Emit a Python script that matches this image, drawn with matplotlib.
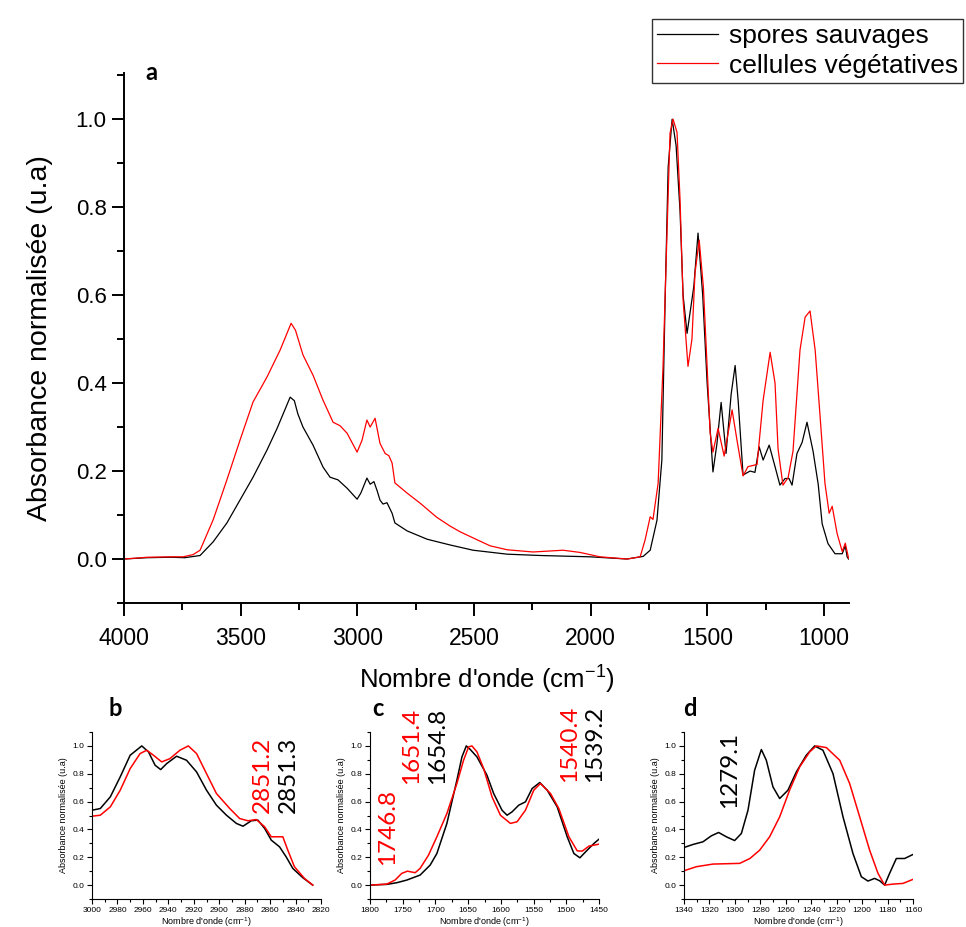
import matplotlib
matplotlib.use("Agg")
import matplotlib.pyplot as plt
from matplotlib.ticker import MultipleLocator

# ---- main spectrum (a) ----
wn_spores = [4000, 3900, 3800, 3740, 3700, 3674, 3618, 3559, 3503, 3447, 3387, 3344, 3310, 3288,
             3270, 3255, 3233, 3190, 3147, 3117, 3083, 3044, 3001, 2985, 2959, 2945, 2929, 2915,
             2903, 2890, 2873, 2851, 2839, 2787, 2701, 2603, 2504, 2358, 2217, 2003, 1844, 1775,
             1745, 1716, 1695, 1681, 1668, 1651, 1634, 1617, 1604, 1587, 1566, 1558, 1540, 1520,
             1501, 1476, 1459, 1441, 1420, 1398, 1381, 1368, 1347, 1317, 1296, 1278, 1261, 1235,
             1210, 1189, 1167, 1150, 1137, 1116, 1094, 1073, 1047, 1025, 1008, 983, 953, 922, 909,
             901, 895]
abs_spores = [0.0, 0.003, 0.004, 0.003, 0.006, 0.008, 0.039, 0.082, 0.134, 0.186, 0.248, 0.297, 0.34,
              0.368, 0.36, 0.33, 0.30, 0.259, 0.209, 0.186, 0.18, 0.161, 0.136, 0.15, 0.184, 0.17,
              0.176, 0.155, 0.134, 0.125, 0.128, 0.104, 0.082, 0.064, 0.045, 0.032, 0.02, 0.011,
              0.008, 0.005, 0.0, 0.006, 0.02, 0.088, 0.225, 0.589, 0.891, 1.0, 0.94, 0.79, 0.60,
              0.513, 0.59, 0.62, 0.741, 0.60, 0.40, 0.198, 0.262, 0.356, 0.24, 0.375, 0.44, 0.36,
              0.191, 0.2, 0.197, 0.255, 0.225, 0.259, 0.21, 0.168, 0.183, 0.183, 0.168, 0.24, 0.265,
              0.311, 0.245, 0.17, 0.08, 0.035, 0.012, 0.012, 0.03, 0.005, 0.0]

wn_veg = [4000, 3900, 3800, 3747, 3704, 3674, 3618, 3559, 3503, 3447, 3387, 3331, 3300, 3284, 3265,
          3233, 3190, 3147, 3104, 3074, 3044, 3001, 2980, 2959, 2945, 2924, 2903, 2881, 2865, 2851,
          2839, 2787, 2731, 2660, 2603, 2560, 2504, 2431, 2358, 2247, 2118, 2046, 1960, 1844, 1788,
          1767, 1745, 1733, 1711, 1690, 1673, 1660, 1647, 1630, 1617, 1604, 1583, 1566, 1553, 1535,
          1517, 1501, 1488, 1476, 1454, 1428, 1394, 1373, 1347, 1326, 1287, 1261, 1231, 1210, 1197,
          1176, 1154, 1133, 1103, 1081, 1060, 1038, 1017, 996, 978, 965, 944, 922, 909, 895]
abs_veg = [0.0, 0.004, 0.005, 0.005, 0.01, 0.02, 0.089, 0.18, 0.27, 0.357, 0.414, 0.475, 0.515, 0.536,
           0.52, 0.464, 0.418, 0.361, 0.311, 0.303, 0.286, 0.243, 0.27, 0.316, 0.30, 0.32, 0.263,
           0.24, 0.235, 0.218, 0.173, 0.15, 0.127, 0.095, 0.075, 0.062, 0.048, 0.03, 0.021, 0.016,
           0.02, 0.015, 0.005, 0.0, 0.005, 0.043, 0.096, 0.09, 0.172, 0.437, 0.74, 0.968, 1.0, 0.97,
           0.816, 0.589, 0.438, 0.5, 0.65, 0.725, 0.618, 0.437, 0.286, 0.243, 0.297, 0.234, 0.339,
           0.27, 0.189, 0.21, 0.215, 0.361, 0.47, 0.40, 0.25, 0.168, 0.185, 0.245, 0.475, 0.55,
           0.564, 0.475, 0.325, 0.172, 0.104, 0.12, 0.058, 0.017, 0.036, 0.002]

# ---- zoom b : CH stretching ----
b_wn_sp = [3000, 2993.5, 2985.6, 2977.8, 2970, 2960.9, 2955.6, 2950.4, 2946, 2941.3, 2933.5, 2925.7,
           2917.8, 2910, 2902.2, 2894.3, 2886.5, 2881.3, 2874.8, 2869.6, 2864.3, 2859.1, 2852.6,
           2847.4, 2842.2, 2834.3, 2826.5]
b_abs_sp = [0.538, 0.55, 0.634, 0.778, 0.933, 1.0, 0.957, 0.861, 0.83, 0.873, 0.926, 0.897, 0.813,
            0.682, 0.574, 0.502, 0.443, 0.423, 0.462, 0.467, 0.407, 0.323, 0.275, 0.203, 0.12,
            0.053, 0.0]
b_wn_veg = [3000, 2993.5, 2985.6, 2977.8, 2970, 2962.2, 2957, 2951.7, 2945.2, 2938.7, 2930.9, 2924.3,
            2917.8, 2910, 2902.2, 2891.7, 2883.9, 2877.4, 2870.9, 2864.3, 2859.1, 2853.9, 2850,
            2846.1, 2840.9, 2833, 2826.5]
b_abs_veg = [0.495, 0.502, 0.562, 0.682, 0.837, 0.945, 0.969, 0.933, 0.885, 0.909, 0.969, 1.0, 0.945,
             0.801, 0.658, 0.55, 0.478, 0.462, 0.471, 0.419, 0.347, 0.347, 0.347, 0.251, 0.132,
             0.048, 0.0]

# ---- zoom c : amide region ----
c_wn_sp = [1800, 1774.4, 1759.1, 1743.8, 1723.4, 1708, 1697.8, 1682.5, 1667.2, 1659.5, 1652.8, 1646.7,
           1636.5, 1621.2, 1611, 1598.2, 1590.5, 1582.9, 1572.7, 1562.4, 1552.2, 1540.5, 1529.2,
           1513.9, 1498.6, 1488.4, 1479.2, 1468, 1457.8, 1450]
c_abs_sp = [0.0, 0.005, 0.017, 0.036, 0.072, 0.144, 0.227, 0.443, 0.754, 0.921, 1.0, 0.974, 0.921,
            0.789, 0.658, 0.538, 0.502, 0.526, 0.574, 0.598, 0.694, 0.737, 0.682, 0.562, 0.347,
            0.227, 0.196, 0.251, 0.299, 0.33]
c_wn_veg = [1800, 1774.4, 1761.7, 1751.5, 1742.8, 1731, 1723.4, 1710.6, 1697.8, 1682.5, 1667.2, 1657,
            1649.3, 1644.2, 1636.5, 1626.3, 1613.5, 1600.7, 1585.4, 1575.2, 1562.4, 1549.7, 1539.5,
            1524.1, 1511.4, 1496, 1483.3, 1475.6, 1465.4, 1450]
c_abs_veg = [0.0, 0.007, 0.036, 0.084, 0.1, 0.089, 0.12, 0.215, 0.347, 0.514, 0.73, 0.897, 0.993, 1.0,
             0.957, 0.837, 0.634, 0.502, 0.443, 0.455, 0.538, 0.682, 0.73, 0.658, 0.55, 0.347,
             0.246, 0.244, 0.28, 0.294]

# ---- zoom d : 1340-1160 ----
d_wn_sp = [1340, 1332.9, 1325.1, 1318.5, 1312.8, 1306.7, 1300.2, 1294.9, 1289.7, 1284.5, 1279.2,
           1275.3, 1270.1, 1264.8, 1258.3, 1251.7, 1243.9, 1237.3, 1230.8, 1222.9, 1215, 1207.2,
           1200.6, 1195.4, 1190.2, 1186.2, 1182.3, 1178.4, 1173.1, 1166.6, 1160]
d_abs_sp = [0.27, 0.292, 0.311, 0.354, 0.378, 0.347, 0.32, 0.371, 0.538, 0.825, 0.974, 0.897, 0.706,
            0.622, 0.682, 0.813, 0.933, 1.0, 0.969, 0.801, 0.49, 0.227, 0.06, 0.029, 0.048, 0.031,
            0.0, 0.084, 0.191, 0.191, 0.22]
d_wn_veg = [1340, 1330.3, 1317.2, 1296.2, 1288.2, 1280.5, 1272.7, 1264.8, 1257, 1249.1, 1241.2, 1236,
            1228.1, 1217.6, 1209.8, 1201.9, 1194.1, 1187.5, 1182.3, 1175.7, 1167.9, 1160]
d_abs_veg = [0.103, 0.132, 0.151, 0.156, 0.191, 0.251, 0.347, 0.49, 0.682, 0.849, 0.957, 1.0, 0.988,
             0.897, 0.73, 0.49, 0.251, 0.084, 0.0, 0.007, 0.012, 0.041]

labels = ["spores sauvages", "cellules végétatives"]
colors = ["black", "red"]

W, H = 966, 927
fig = plt.figure(figsize=(W / 100, H / 100), dpi=100)
plt.rcParams['font.family'] = ['Liberation Sans', 'DejaVu Sans']
plt.rcParams['mathtext.fontset'] = 'custom'
plt.rcParams['mathtext.rm'] = 'Liberation Sans'


def px(x, y):
    return x / W, 1 - y / H


def style_axes(ax, lw, major_len, minor_len, fs):
    for s in ["top", "right"]:
        ax.spines[s].set_visible(False)
    for s in ["left", "bottom"]:
        ax.spines[s].set_linewidth(lw)
    ax.tick_params(which="major", direction="out", length=major_len, width=lw, labelsize=fs)
    ax.tick_params(which="minor", direction="out", length=minor_len, width=lw)


# main panel
ax = fig.add_axes([124 / W, 1 - 603 / H, (849 - 124) / W, (603 - 73) / H])
ax.plot(wn_spores, abs_spores, color=colors[0], lw=0.9, label=labels[0])
ax.plot(wn_veg, abs_veg, color=colors[1], lw=0.9, label=labels[1])
ax.set_xlim(4000, 893)
ax.set_ylim(-0.1, 1.105)
ax.xaxis.set_major_locator(MultipleLocator(500))
ax.xaxis.set_minor_locator(MultipleLocator(250))
ax.yaxis.set_major_locator(MultipleLocator(0.2))
ax.yaxis.set_minor_locator(MultipleLocator(0.1))
ax.yaxis.set_major_formatter(plt.FuncFormatter(lambda v, p: f"{v:.1f}"))
style_axes(ax, 1.4, 9, 5, 16)
ax.tick_params(axis="x", pad=8, labelsize=16.5)
ax.set_xlabel("Nombre d'onde (cm$^{\\mathregular{-1}}$)", fontsize=18.5, labelpad=9)
ax.set_ylabel("Absorbance normalisée (u.a)", fontsize=20.5, labelpad=16)

fig.text(*px(151, 72), "a", fontsize=17, fontweight="bold", family="Lato", ha="center", va="center")

leg = fig.legend(loc="upper right", bbox_to_anchor=px(963, 19), fontsize=19, frameon=True,
                 fancybox=False, edgecolor="black", handlelength=2.3, handletextpad=0.4,
                 borderpad=0.2, labelspacing=0.2, borderaxespad=0)
leg.get_frame().set_linewidth(1.0)

# insets
insets = [
    ("b", 92, 3000, 2820, 20, 10, b_wn_sp, b_abs_sp, b_wn_veg, b_abs_veg),
    ("c", 370, 1800, 1450, 50, 25, c_wn_sp, c_abs_sp, c_wn_veg, c_abs_veg),
    ("d", 684, 1340, 1160, 20, 10, d_wn_sp, d_abs_sp, d_wn_veg, d_abs_veg),
]
letter_x = {"b": 115, "c": 378, "d": 690}
for name, left, x0, x1, maj, mnr, ws, a_s, wv, av in insets:
    axi = fig.add_axes([left / W, 1 - 899 / H, 229 / W, (899 - 732) / H])
    axi.plot(ws, a_s, color="black", lw=1.1)
    axi.plot(wv, av, color="red", lw=1.1)
    axi.set_xlim(x0, x1)
    axi.set_ylim(-0.1, 1.1)
    axi.xaxis.set_major_locator(MultipleLocator(maj))
    axi.xaxis.set_minor_locator(MultipleLocator(mnr))
    axi.yaxis.set_major_locator(MultipleLocator(0.2))
    axi.yaxis.set_minor_locator(MultipleLocator(0.1))
    axi.yaxis.set_major_formatter(plt.FuncFormatter(lambda v, p: f"{v:.1f}"))
    style_axes(axi, 0.8, 3.5, 2, 6)
    axi.tick_params(pad=2)
    axi.set_xlabel("Nombre d'onde (cm$^{\\mathregular{-1}}$)", fontsize=6.5, labelpad=1)
    axi.set_ylabel("Absorbance normalisée (u.a)", fontsize=6.5, labelpad=3)
    fig.text(*px(letter_x[name], 708), name, fontsize=17, fontweight="bold", family="Lato",
             ha="center", va="center")

# peak labels
peaks = [
    (262, 775, "2851.2", "red"),
    (288, 775, "2851.3", "black"),
    (388, 827, "1746.8", "red"),
    (412, 746, "1651.4", "red"),
    (438, 746, "1654.8", "black"),
    (570, 744, "1540.4", "red"),
    (595, 744, "1539.2", "black"),
    (730, 770, "1279.1", "black"),
]
for x, y, t, c in peaks:
    fig.text(*px(x, y), t, color=c, fontsize=17.5, family="Lato", rotation=90,
             ha="center", va="center")

fig.savefig("out.png", dpi=100)
